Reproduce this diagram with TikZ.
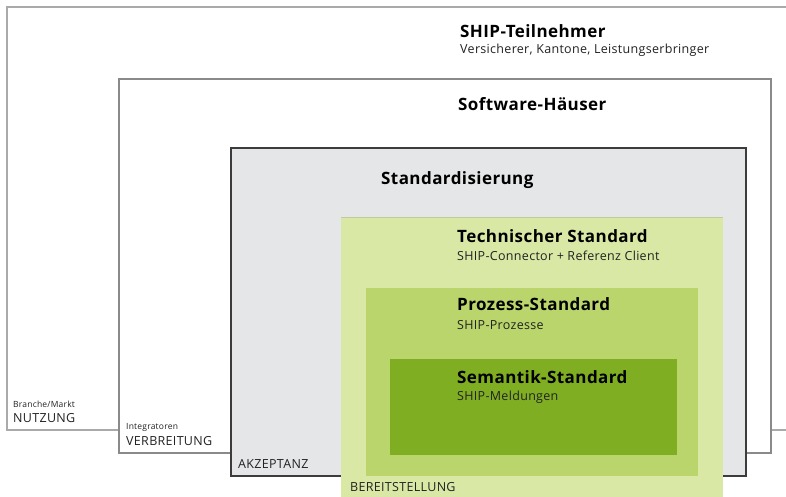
\documentclass[tikz,border=0pt]{standalone}
\usepackage{fontspec}
\setmainfont[LetterSpace=2.5]{Open Sans}
\definecolor{gOne}{HTML}{AAAAAA}
\definecolor{gTwo}{HTML}{8A8A8A}
\definecolor{gThree}{HTML}{3C3C3C}
\definecolor{fThree}{HTML}{E5E6E8}
\definecolor{fFour}{HTML}{D9E8A5}
\definecolor{lFour}{HTML}{C2CB9E}
\definecolor{fFive}{HTML}{B9D56B}
\definecolor{fSix}{HTML}{80AE22}
\definecolor{txt}{HTML}{222222}
\tikzset{
  ttl/.style={anchor=base west, inner sep=0pt, font=\bfseries\fontsize{17}{20}\selectfont, text=black},
  sub/.style={anchor=base west, inner sep=0pt, font=\fontsize{12.5}{15}\selectfont, text=txt},
  lbl/.style={anchor=base west, inner sep=0pt, font=\fontsize{12.5}{15}\selectfont, text=txt},
  tiny/.style={anchor=base west, inner sep=0pt, font=\fontsize{8.5}{10}\selectfont, text=txt},
}
\begin{document}
\begin{tikzpicture}[x=1pt,y=-1pt]
\useasboundingbox (0,0) rectangle (786,497);
% boxes
\draw[gOne, line width=1.3pt, fill=white] (7,7) rectangle (792,430);
\draw[gTwo, line width=1.3pt, fill=white] (119,79) rectangle (771,453);
\draw[gThree, line width=1.3pt, fill=fThree] (231,148) rectangle (746,476);
\fill[fFour] (341,217) rectangle (723,500);
\draw[lFour, line width=1pt] (341,217) -- (723,217);
\fill[fFive] (366,288) rectangle (698,476);
\fill[fSix] (390,359) rectangle (677,455);
% texts
\node[ttl] (t1) at (460,38) {SHIP-Teilnehmer};
\node[sub] (s1) at (460,54) {Versicherer, Kantone, Leistungserbringer};
\node[ttl] (t2) at (458,111) {Software-Häuser};
\node[ttl] (t3) at (381,185) {Standardisierung};
\node[ttl] (t4) at (457,242) {Technischer Standard};
\node[sub] (s4) at (457,260) {SHIP-Connector + Referenz Client};
\node[ttl] (t5) at (457,310) {Prozess-Standard};
\node[sub] (s5) at (457,329) {SHIP-Prozesse};
\node[ttl] (t6) at (457,383) {Semantik-Standard};
\node[sub] (s6) at (457,400) {SHIP-Meldungen};
\node[tiny] (b1) at (13,407) {Branche/Markt};
\node[lbl] (l1) at (13,422) {NUTZUNG};
\node[tiny] (b2) at (126,429) {Integratoren};
\node[lbl] (l2) at (126,445.5) {VERBREITUNG};
\node[lbl] (l3) at (238,468) {AKZEPTANZ};
\node[lbl] (l4) at (350,491.5) {BEREITSTELLUNG};
\end{tikzpicture}
\end{document}
